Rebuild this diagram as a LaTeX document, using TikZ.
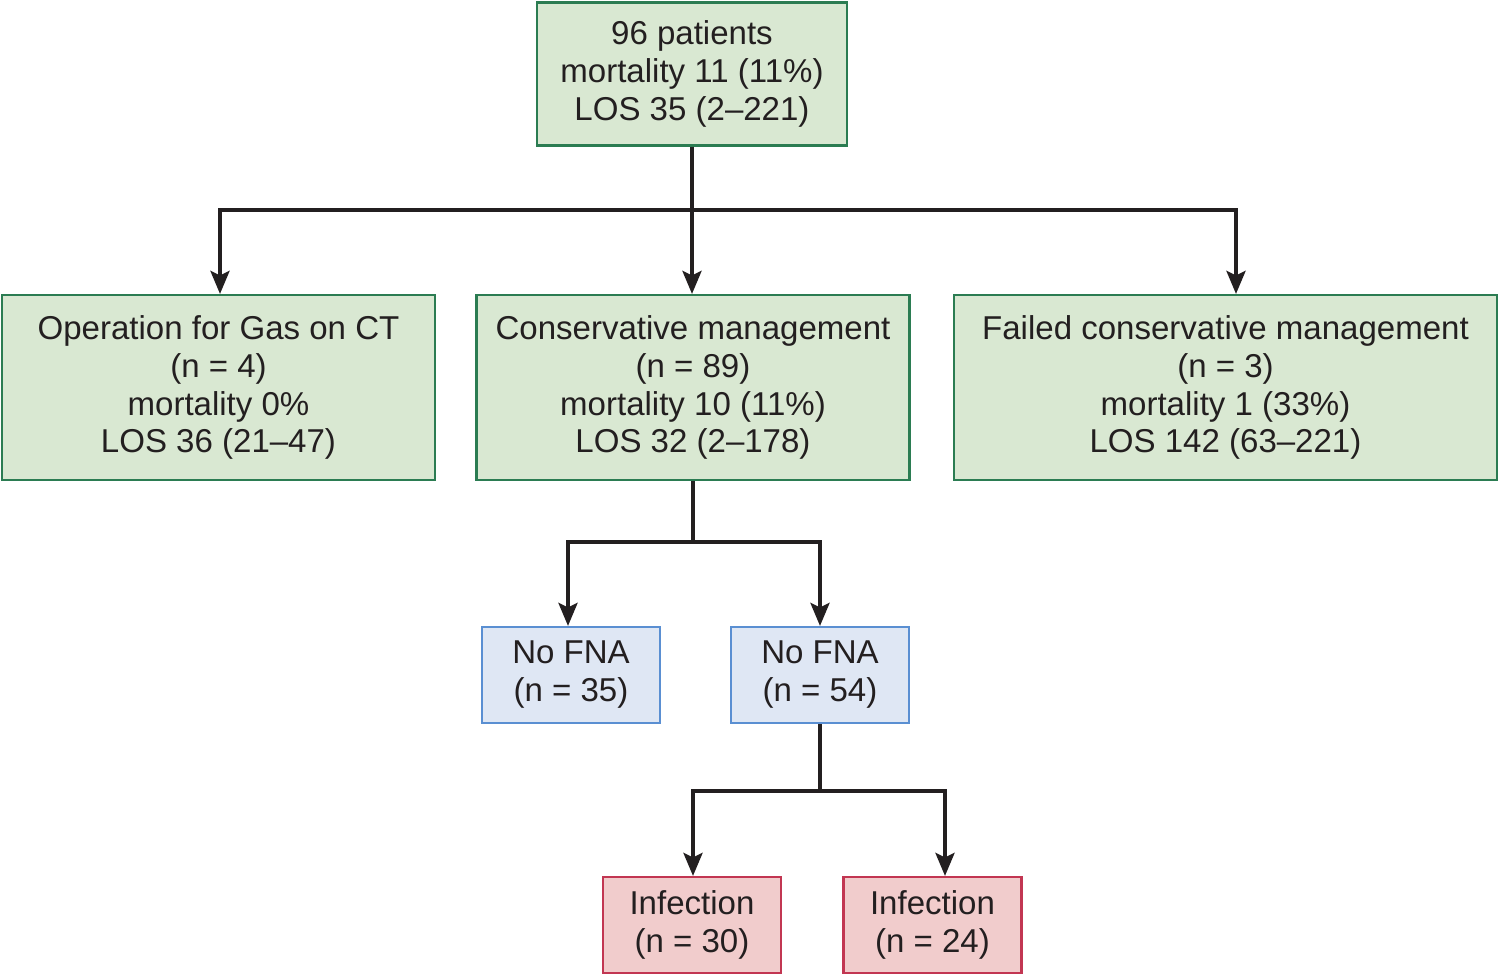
\documentclass[tikz,border=0pt]{standalone}
\usepackage{fontspec}
\setmainfont{Liberation Sans}
\usepackage{xcolor}
\usetikzlibrary{arrows.meta, positioning, calc}

\definecolor{inkgray}{HTML}{231F20}
\definecolor{greenfill}{HTML}{D9E8D2}
\definecolor{greenline}{HTML}{2B7C52}
\definecolor{bluefill}{HTML}{DFE7F4}
\definecolor{blueline}{HTML}{5A8FD2}
\definecolor{redfill}{HTML}{F1CCCC}
\definecolor{redline}{HTML}{C23652}

\begin{document}
\begin{tikzpicture}[
    block/.style={rectangle, draw, line width=0.6pt, align=center, inner sep=0pt, text=inkgray, font=\fontsize{9.4}{10.8}\selectfont},
    greenbox/.style={block, fill=greenfill, draw=greenline, minimum height=1.85cm},
    bluebox/.style={block, fill=bluefill, draw=blueline, minimum width=1.78cm, minimum height=0.96cm},
    redbox/.style={block, fill=redfill, draw=redline, minimum width=1.78cm, minimum height=0.96cm},
    link/.style={line width=1.1pt, draw=inkgray},
    arrow/.style={link, -{Stealth[length=2.3mm, width=1.9mm, inset=0.45mm]}}
]
    \useasboundingbox (0,0) rectangle (15,-9.76);

    % Top
    \node[greenbox, minimum width=3.1cm, minimum height=1.43cm] (all) at (6.92,-0.74) {96 patients\\mortality 11 (11\%)\\LOS 35 (2--221)};

    % Second row
    \node[greenbox, minimum width=4.33cm] (op) at (2.185,-3.875) {Operation for Gas on CT\\(n = 4)\\mortality 0\%\\LOS 36 (21--47)};
    \node[greenbox, minimum width=4.33cm] (cons) at (6.93,-3.875) {Conservative management\\(n = 89)\\mortality 10 (11\%)\\LOS 32 (2--178)};
    \node[greenbox, minimum width=5.43cm] (failed) at (12.255,-3.875) {Failed conservative management\\(n = 3)\\mortality 1 (33\%)\\LOS 142 (63--221)};

    % FNA
    \node[bluebox] (fna1) at (5.71,-6.75) {No FNA\\(n = 35)};
    \node[bluebox] (fna2) at (8.20,-6.75) {No FNA\\(n = 54)};

    % Infection
    \node[redbox] (inf1) at (6.92,-9.25) {Infection\\(n = 30)};
    \node[redbox] (inf2) at (9.325,-9.25) {Infection\\(n = 24)};

    % Splits
    \coordinate (split1) at (6.92,-2.10);
    \coordinate (split2) at (6.93,-5.42);
    \coordinate (split3) at (8.20,-7.91);

    % Arrows
    \draw[arrow] (all.south) -- (all.south |- cons.north);
    \draw[arrow] (split1) -| ([xshift=0.15mm]op.north);
    \draw[arrow] (split1) -| ([xshift=1.05mm]failed.north);

    \draw[link] (cons.south) -- (split2);
    \draw[arrow] (split2) -| ([xshift=-0.3mm]fna1.north);
    \draw[arrow] (split2) -| (fna2.north);

    \draw[link] (fna2.south) -- (split3);
    \draw[arrow] (split3) -| ([xshift=0.1mm]inf1.north);
    \draw[arrow] (split3) -| ([xshift=1.25mm]inf2.north);

\end{tikzpicture}
\end{document}
